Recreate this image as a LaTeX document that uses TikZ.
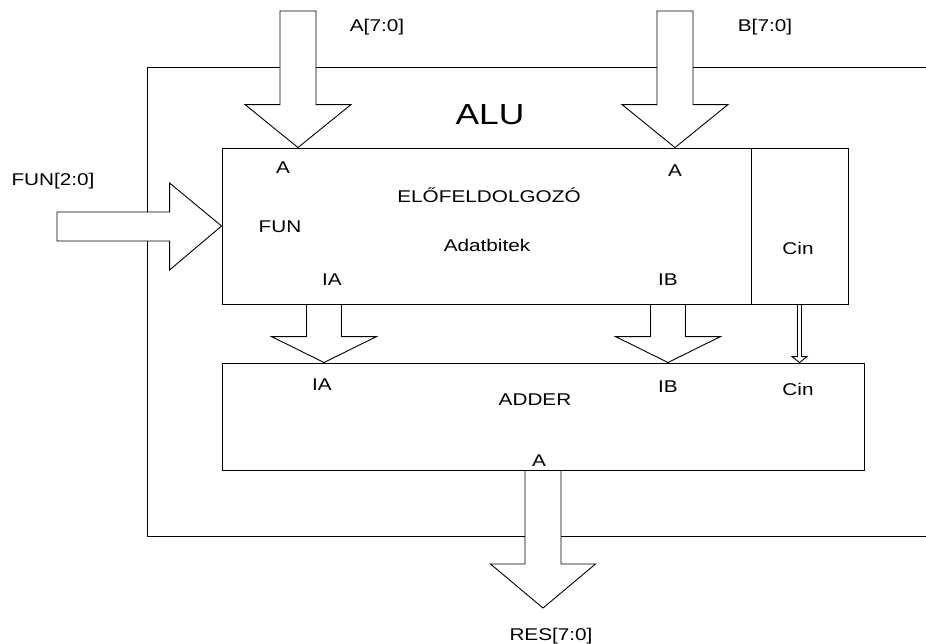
\documentclass[tikz,border=0pt]{standalone}
\usepackage{fontspec}
\setmainfont{Liberation Sans}[FakeStretch=1.22]
\usetikzlibrary{calc}
\newcommand\lbl{\fontsize{17}{20}\selectfont}
% block arrow pointing down: from, to, half shaft, half head, head length
\newcommand\dnarrow[5]{%
  \draw[barrow] let \p1=(#1), \p2=(#2) in
    (\x1-#3pt,\y1) -- (\x1-#3pt,\y2+#5pt) -- (\x1-#4pt,\y2+#5pt) -- (\x2,\y2)
    -- (\x1+#4pt,\y2+#5pt) -- (\x1+#3pt,\y2+#5pt) -- (\x1+#3pt,\y1) -- cycle;}
% block arrow pointing right
\newcommand\rtarrow[5]{%
  \draw[barrow] let \p1=(#1), \p2=(#2) in
    (\x1,\y1+#3pt) -- (\x2-#5pt,\y1+#3pt) -- (\x2-#5pt,\y1+#4pt) -- (\x2,\y2)
    -- (\x2-#5pt,\y1-#4pt) -- (\x2-#5pt,\y1-#3pt) -- (\x1,\y1-#3pt) -- cycle;}

\begin{document}
\begin{tikzpicture}[x=1pt,y=-1pt,line width=0.9pt]
    \tikzstyle{box}=[draw, rectangle, inner sep=0pt]
    \tikzstyle{barrow}=[draw, fill=white, line join=miter]
    \tikzstyle{txt}=[inner sep=0pt, anchor=base, font=\lbl]

    \useasboundingbox (0,0) rectangle (926,643);

    % ALU frame, open to the right
    \draw (926,67) -| (147,536) -- (926,536);

    \node[box, minimum width=529pt, minimum height=156pt] (pre)   at (486.5,226)  {};
    \node[box, minimum width=97pt,  minimum height=156pt] (cinb)  at (799.5,226)  {};
    \node[box, minimum width=642pt, minimum height=107pt] (adder) at (543,416.5)  {};

    \coordinate (atop)  at (298,11);
    \coordinate (btop)  at (675,11);
    \coordinate (funin) at (57,226.5);
    \coordinate (resout) at (543,608);

    \dnarrow{atop}{atop |- pre.north}{18}{53}{43}
    \dnarrow{btop}{btop |- pre.north}{18}{53}{43}
    \rtarrow{funin}{pre.west}{14.5}{43.5}{52}
    \dnarrow{pre.south -| 324,0}{adder.north -| 324,0}{17.5}{52.5}{26}
    \dnarrow{pre.south -| 668,0}{adder.north -| 668,0}{17.5}{52.5}{26}
    \dnarrow{cinb.south}{adder.north -| cinb.south}{2}{7.5}{6}
    \dnarrow{adder.south}{resout}{18}{52.5}{44}

    \node[txt, font=\fontsize{29}{34}\selectfont] (alu) at (490,124) {ALU};
    \node[txt] (ain)  at (377,31)  {A[7:0]};
    \node[txt] (bin)  at (765,31)  {B[7:0]};
    \node[txt] (fun)  at (53,185)  {FUN[2:0]};
    \node[txt] (res)  at (551,640) {RES[7:0]};

    \node[txt] (prea)   at (283,173) {A};
    \node[txt] (preb)   at (675,176) {A};
    \node[txt] (pretit) at (489,202) {ELŐFELDOLGOZÓ};
    \node[txt] (prefun) at (280,232) {FUN};
    \node[txt] (predat) at (487,251) {Adatbitek};
    \node[txt] (preia)  at (332,285) {IA};
    \node[txt] (preib)  at (668,285) {IB};
    \node[txt] (precin) at (798,254) {Cin};

    \node[txt] (addia)  at (322,390) {IA};
    \node[txt] (addib)  at (668,392) {IB};
    \node[txt] (addcin) at (798,395) {Cin};
    \node[txt] (addtit) at (535,405) {ADDER};
    \node[txt] (adda)   at (539,466) {A};
\end{tikzpicture}
\end{document}
